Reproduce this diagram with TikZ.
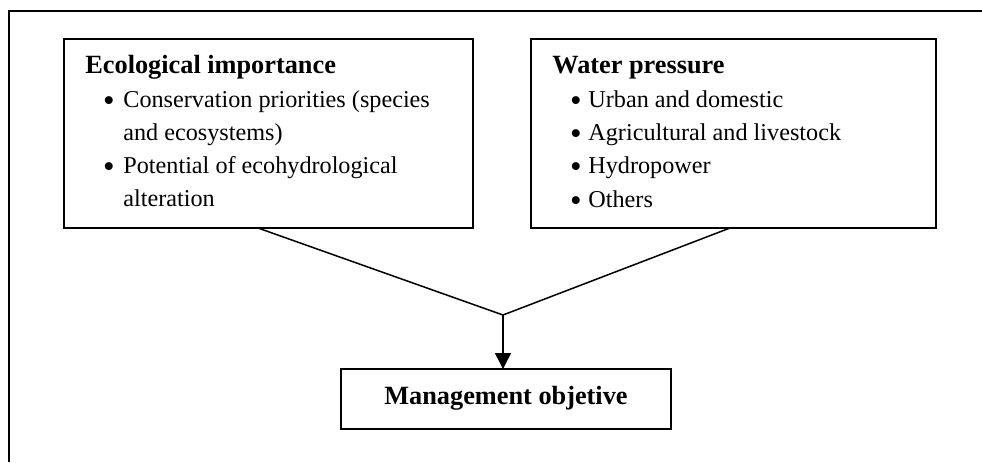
\documentclass[tikz,border=0pt]{standalone}
\usepackage{fontspec}
\setmainfont{Liberation Serif}
\usetikzlibrary{arrows.meta}
\begin{document}
\begin{tikzpicture}[x=0.5pt,y=-0.5pt,
  box/.style={draw,line width=0.8pt,inner sep=0pt,outer sep=0pt,anchor=north west,minimum height=94.5pt},
  ttl/.style={font=\fontsize{13.15}{16}\selectfont\bfseries,anchor=base west,inner sep=0pt},
  itm/.style={font=\fontsize{12.1}{14}\selectfont,anchor=base west,inner sep=0pt},
  bul/.style={font=\fontsize{16.5}{18}\selectfont,anchor=base,inner sep=0pt},
  conn/.style={line width=0.75pt}]
\useasboundingbox (0,0) rectangle (982,462);
\fill[white] (0,0) rectangle (982,462);
% frame
\draw[line width=1pt] (9,462) -- (9,11) -- (982,11);
% boxes
\node[box,minimum width=204.5pt] (L) at (64,39) {};
\node[box,minimum width=202.5pt] (R) at (531,39) {};
\node[box,minimum width=165pt,minimum height=30pt] (M) at (341,369) {};
% left box text
\node[ttl] (lt) at (85,73) {Ecological importance};
\node[bul] (lb1) at (109,111) {\textbullet};
\node[itm] (l1) at (123,107) {Conservation priorities (species};
\node[itm] (l1b) at (123,140) {and ecosystems)};
\node[bul] (lb2) at (109,177) {\textbullet};
\node[itm] (l2) at (123,173) {Potential of ecohydrological};
\node[itm] (l2b) at (123,206) {alteration};
% right box text
\node[ttl] (rt) at (552,73) {Water pressure};
\node[bul] (rb1) at (576,111) {\textbullet};
\node[itm] (r1) at (588,107) {Urban and domestic};
\node[bul] (rb2) at (576,144) {\textbullet};
\node[itm] (r2) at (588,140) {Agricultural and livestock};
\node[bul] (rb3) at (576,177.5) {\textbullet};
\node[itm] (r3) at (588,173.5) {Hydropower};
\node[bul] (rb4) at (576,211) {\textbullet};
\node[itm] (r4) at (588,207) {Others};
% bottom text
\node[ttl,anchor=base] (mt) at (506,404) {Management objetive};
% connectors
\coordinate (j) at (503,315);
\draw[conn] ([xshift=-5.25pt]L.south) -- (j);
\draw[conn] ([xshift=-1.75pt]R.south) -- (j);
\draw[conn,-{Triangle[length=8pt,width=8pt]}] (j) -- (j |- M.north);
\end{tikzpicture}
\end{document}
